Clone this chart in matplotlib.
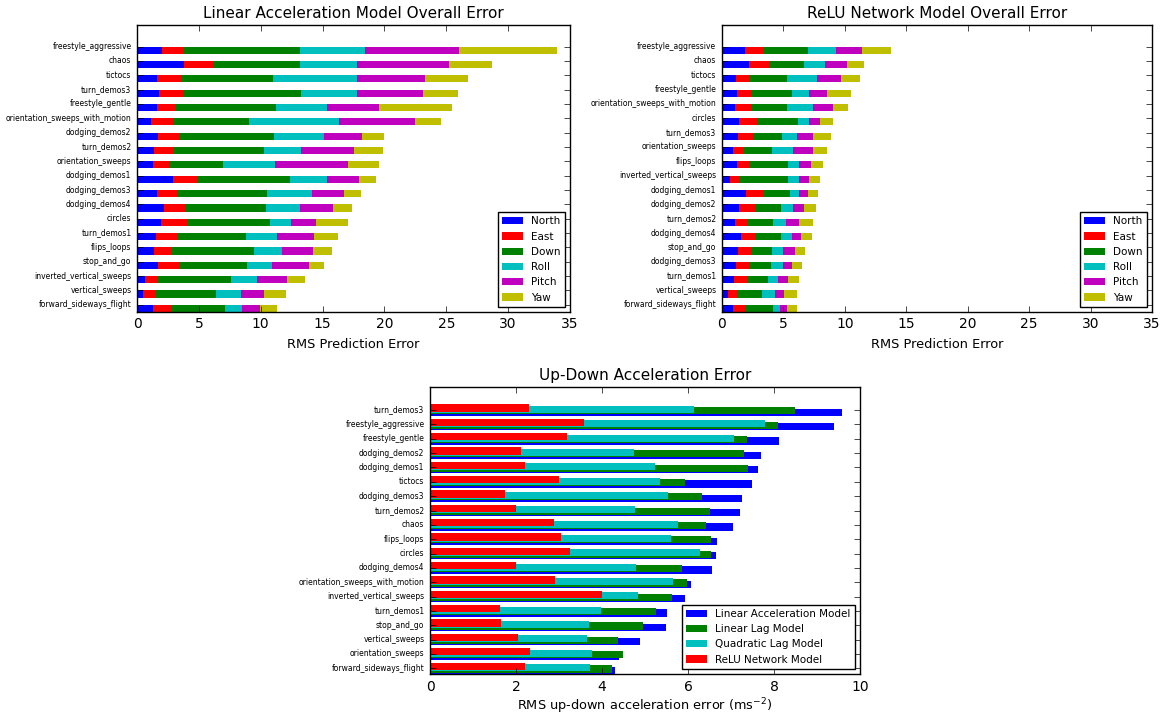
import numpy as np
import matplotlib.pyplot as plt

plt.style.use('classic')
plt.rcParams['mathtext.fontset'] = 'dejavusans'

parts = ["North", "East", "Down", "Roll", "Pitch", "Yaw"]
part_colors = ["b", "r", "g", "c", "m", "y"]

# linear acceleration model, per-axis RMS error (top to bottom)
lin_names = ["freestyle_aggressive", "chaos", "tictocs", "turn_demos3", "freestyle_gentle",
             "orientation_sweeps_with_motion", "dodging_demos2", "turn_demos2", "orientation_sweeps",
             "dodging_demos1", "dodging_demos3", "dodging_demos4", "circles", "turn_demos1",
             "flips_loops", "stop_and_go", "inverted_vertical_sweeps", "vertical_sweeps",
             "forward_sideways_flight"]
lin_north = [2.05, 3.83, 1.63, 1.75, 1.63, 1.14, 1.69, 1.36, 1.33, 2.89, 1.63, 2.20, 1.90, 1.54, 1.36, 1.72, 0.63, 0.51, 1.30]
lin_east = [1.78, 2.34, 1.89, 2.02, 1.50, 1.84, 1.74, 1.62, 1.23, 1.93, 1.65, 1.66, 2.17, 1.74, 1.41, 1.74, 1.09, 0.97, 1.47]
lin_down = [9.36, 7.02, 7.47, 9.51, 8.10, 6.06, 7.65, 7.26, 4.37, 7.56, 7.20, 6.56, 6.65, 5.49, 6.69, 5.46, 5.90, 4.88, 4.34]
lin_roll = [5.21, 4.61, 6.81, 4.49, 4.10, 7.26, 4.01, 3.04, 4.24, 3.01, 3.68, 2.74, 1.69, 2.56, 2.26, 1.98, 2.05, 2.04, 1.41]
lin_pitch = [7.60, 7.44, 5.45, 5.36, 4.22, 6.14, 3.13, 4.25, 5.85, 2.59, 2.56, 2.71, 2.05, 3.01, 2.50, 2.99, 2.44, 1.87, 1.42]
lin_yaw = [7.98, 3.43, 3.50, 2.83, 5.95, 2.16, 1.78, 2.35, 2.53, 1.36, 1.35, 1.51, 2.62, 1.89, 1.53, 1.23, 1.44, 1.75, 1.39]

# relu network model, per-axis RMS error (top to bottom)
relu_names = ["freestyle_aggressive", "chaos", "tictocs", "freestyle_gentle",
              "orientation_sweeps_with_motion", "circles", "turn_demos3", "orientation_sweeps",
              "flips_loops", "inverted_vertical_sweeps", "dodging_demos1", "dodging_demos2",
              "turn_demos2", "dodging_demos4", "stop_and_go", "dodging_demos3", "turn_demos1",
              "vertical_sweeps", "forward_sideways_flight"]
relu_north = [1.85, 2.18, 1.17, 1.25, 1.06, 1.42, 1.34, 0.90, 1.23, 0.68, 1.99, 1.42, 1.09, 1.58, 1.28, 1.12, 1.01, 0.52, 0.93]
relu_east = [1.58, 1.63, 1.06, 1.23, 1.28, 1.55, 1.19, 0.93, 1.09, 0.68, 1.33, 1.25, 1.06, 1.23, 1.12, 1.11, 1.12, 0.68, 0.98]
relu_down = [3.60, 2.89, 3.03, 3.19, 2.92, 3.24, 2.32, 2.28, 3.02, 4.01, 2.18, 2.10, 1.99, 1.96, 1.69, 1.75, 1.63, 2.04, 2.23]
relu_roll = [2.23, 1.72, 2.51, 1.41, 2.12, 0.85, 1.23, 1.64, 0.95, 0.87, 0.77, 0.98, 1.09, 0.90, 0.87, 0.98, 0.79, 1.04, 0.55]
relu_pitch = [2.18, 1.74, 1.90, 1.48, 1.64, 0.90, 1.33, 1.63, 0.96, 0.84, 0.73, 0.90, 1.06, 0.79, 0.95, 0.73, 0.82, 0.79, 0.60]
relu_yaw = [2.35, 1.37, 1.56, 1.98, 1.23, 1.06, 1.45, 1.20, 1.01, 0.93, 0.85, 0.98, 1.15, 0.90, 0.82, 0.82, 0.87, 1.03, 0.79]

# up-down acceleration error per model (top to bottom)
ud_names = ["turn_demos3", "freestyle_aggressive", "freestyle_gentle", "dodging_demos2",
            "dodging_demos1", "tictocs", "dodging_demos3", "turn_demos2", "chaos", "flips_loops",
            "circles", "dodging_demos4", "orientation_sweeps_with_motion", "inverted_vertical_sweeps",
            "turn_demos1", "stop_and_go", "vertical_sweeps", "orientation_sweeps",
            "forward_sideways_flight"]
ud_linear_acc = [9.59, 9.40, 8.12, 7.70, 7.63, 7.49, 7.25, 7.22, 7.05, 6.68, 6.66, 6.56, 6.08, 5.94, 5.51, 5.48, 4.89, 4.40, 4.30]
ud_linear_lag = [8.49, 8.10, 7.37, 7.31, 7.40, 5.93, 6.32, 6.52, 6.42, 6.53, 6.53, 5.86, 5.97, 5.62, 5.25, 4.96, 4.38, 4.48, 4.23]
ud_quad_lag = [6.14, 7.78, 7.06, 4.74, 5.23, 5.36, 5.53, 4.77, 5.77, 5.60, 6.29, 4.80, 5.66, 4.84, 3.97, 3.70, 3.66, 3.76, 3.72]
ud_relu = [2.31, 3.59, 3.18, 2.11, 2.22, 3.00, 1.75, 1.99, 2.89, 3.05, 3.26, 1.99, 2.91, 4.00, 1.62, 1.66, 2.05, 2.32, 2.21]
ud_models = ["Linear Acceleration Model", "Linear Lag Model", "Quadratic Lag Model", "ReLU Network Model"]
ud_colors = ["b", "g", "c", "r"]

width = 0.5


def stacked(ax, names, cols, title):
    pos = np.arange(len(names))[::-1]
    left = np.zeros(len(names))
    for vals, lab, col in zip(cols, parts, part_colors):
        vals = np.array(vals)
        ax.barh(pos, vals, height=width, left=left, align='edge', color=col, linewidth=0, label=lab)
        left = left + vals
    ax.set_yticks(pos + width)
    ax.set_yticklabels(names, fontsize=5.5)
    ax.set_ylim(0, 20)
    ax.set_xlim(0, 35)
    ax.set_title(title, fontsize=11)
    ax.set_xlabel("RMS Prediction Error", fontsize=9.3)
    ax.tick_params(axis='x', labelsize=10)
    ax.legend(loc='lower right', fontsize=7.5)


fig = plt.figure(figsize=(11.65, 7.17), dpi=100, facecolor='w')
ax1 = fig.add_axes([0.1176, 0.565, 0.3717, 0.400])
ax2 = fig.add_axes([0.6197, 0.565, 0.3691, 0.400])
ax3 = fig.add_axes([0.3691, 0.060, 0.3691, 0.400])

stacked(ax1, lin_names, [lin_north, lin_east, lin_down, lin_roll, lin_pitch, lin_yaw],
        "Linear Acceleration Model Overall Error")
stacked(ax2, relu_names, [relu_north, relu_east, relu_down, relu_roll, relu_pitch, relu_yaw],
        "ReLU Network Model Overall Error")

pos = np.arange(len(ud_names))[::-1]
for k, (vals, lab, col) in enumerate(zip([ud_linear_acc, ud_linear_lag, ud_quad_lag, ud_relu], ud_models, ud_colors)):
    ax3.barh(pos + 0.1*k, vals, height=width, align='edge', color=col, linewidth=0, label=lab)
ax3.set_yticks(pos + 0.4)
ax3.set_yticklabels(ud_names, fontsize=5.5)
ax3.set_ylim(0, 20)
ax3.set_xlim(0, 10)
ax3.set_title("Up-Down Acceleration Error", fontsize=11)
ax3.set_xlabel(r"RMS up-down acceleration error (ms$^{-2}$)", fontsize=9.3, labelpad=2)
ax3.tick_params(axis='x', labelsize=10)
ax3.legend(loc='lower right', fontsize=7.5)

plt.savefig("out.png", dpi=100, facecolor='w')
